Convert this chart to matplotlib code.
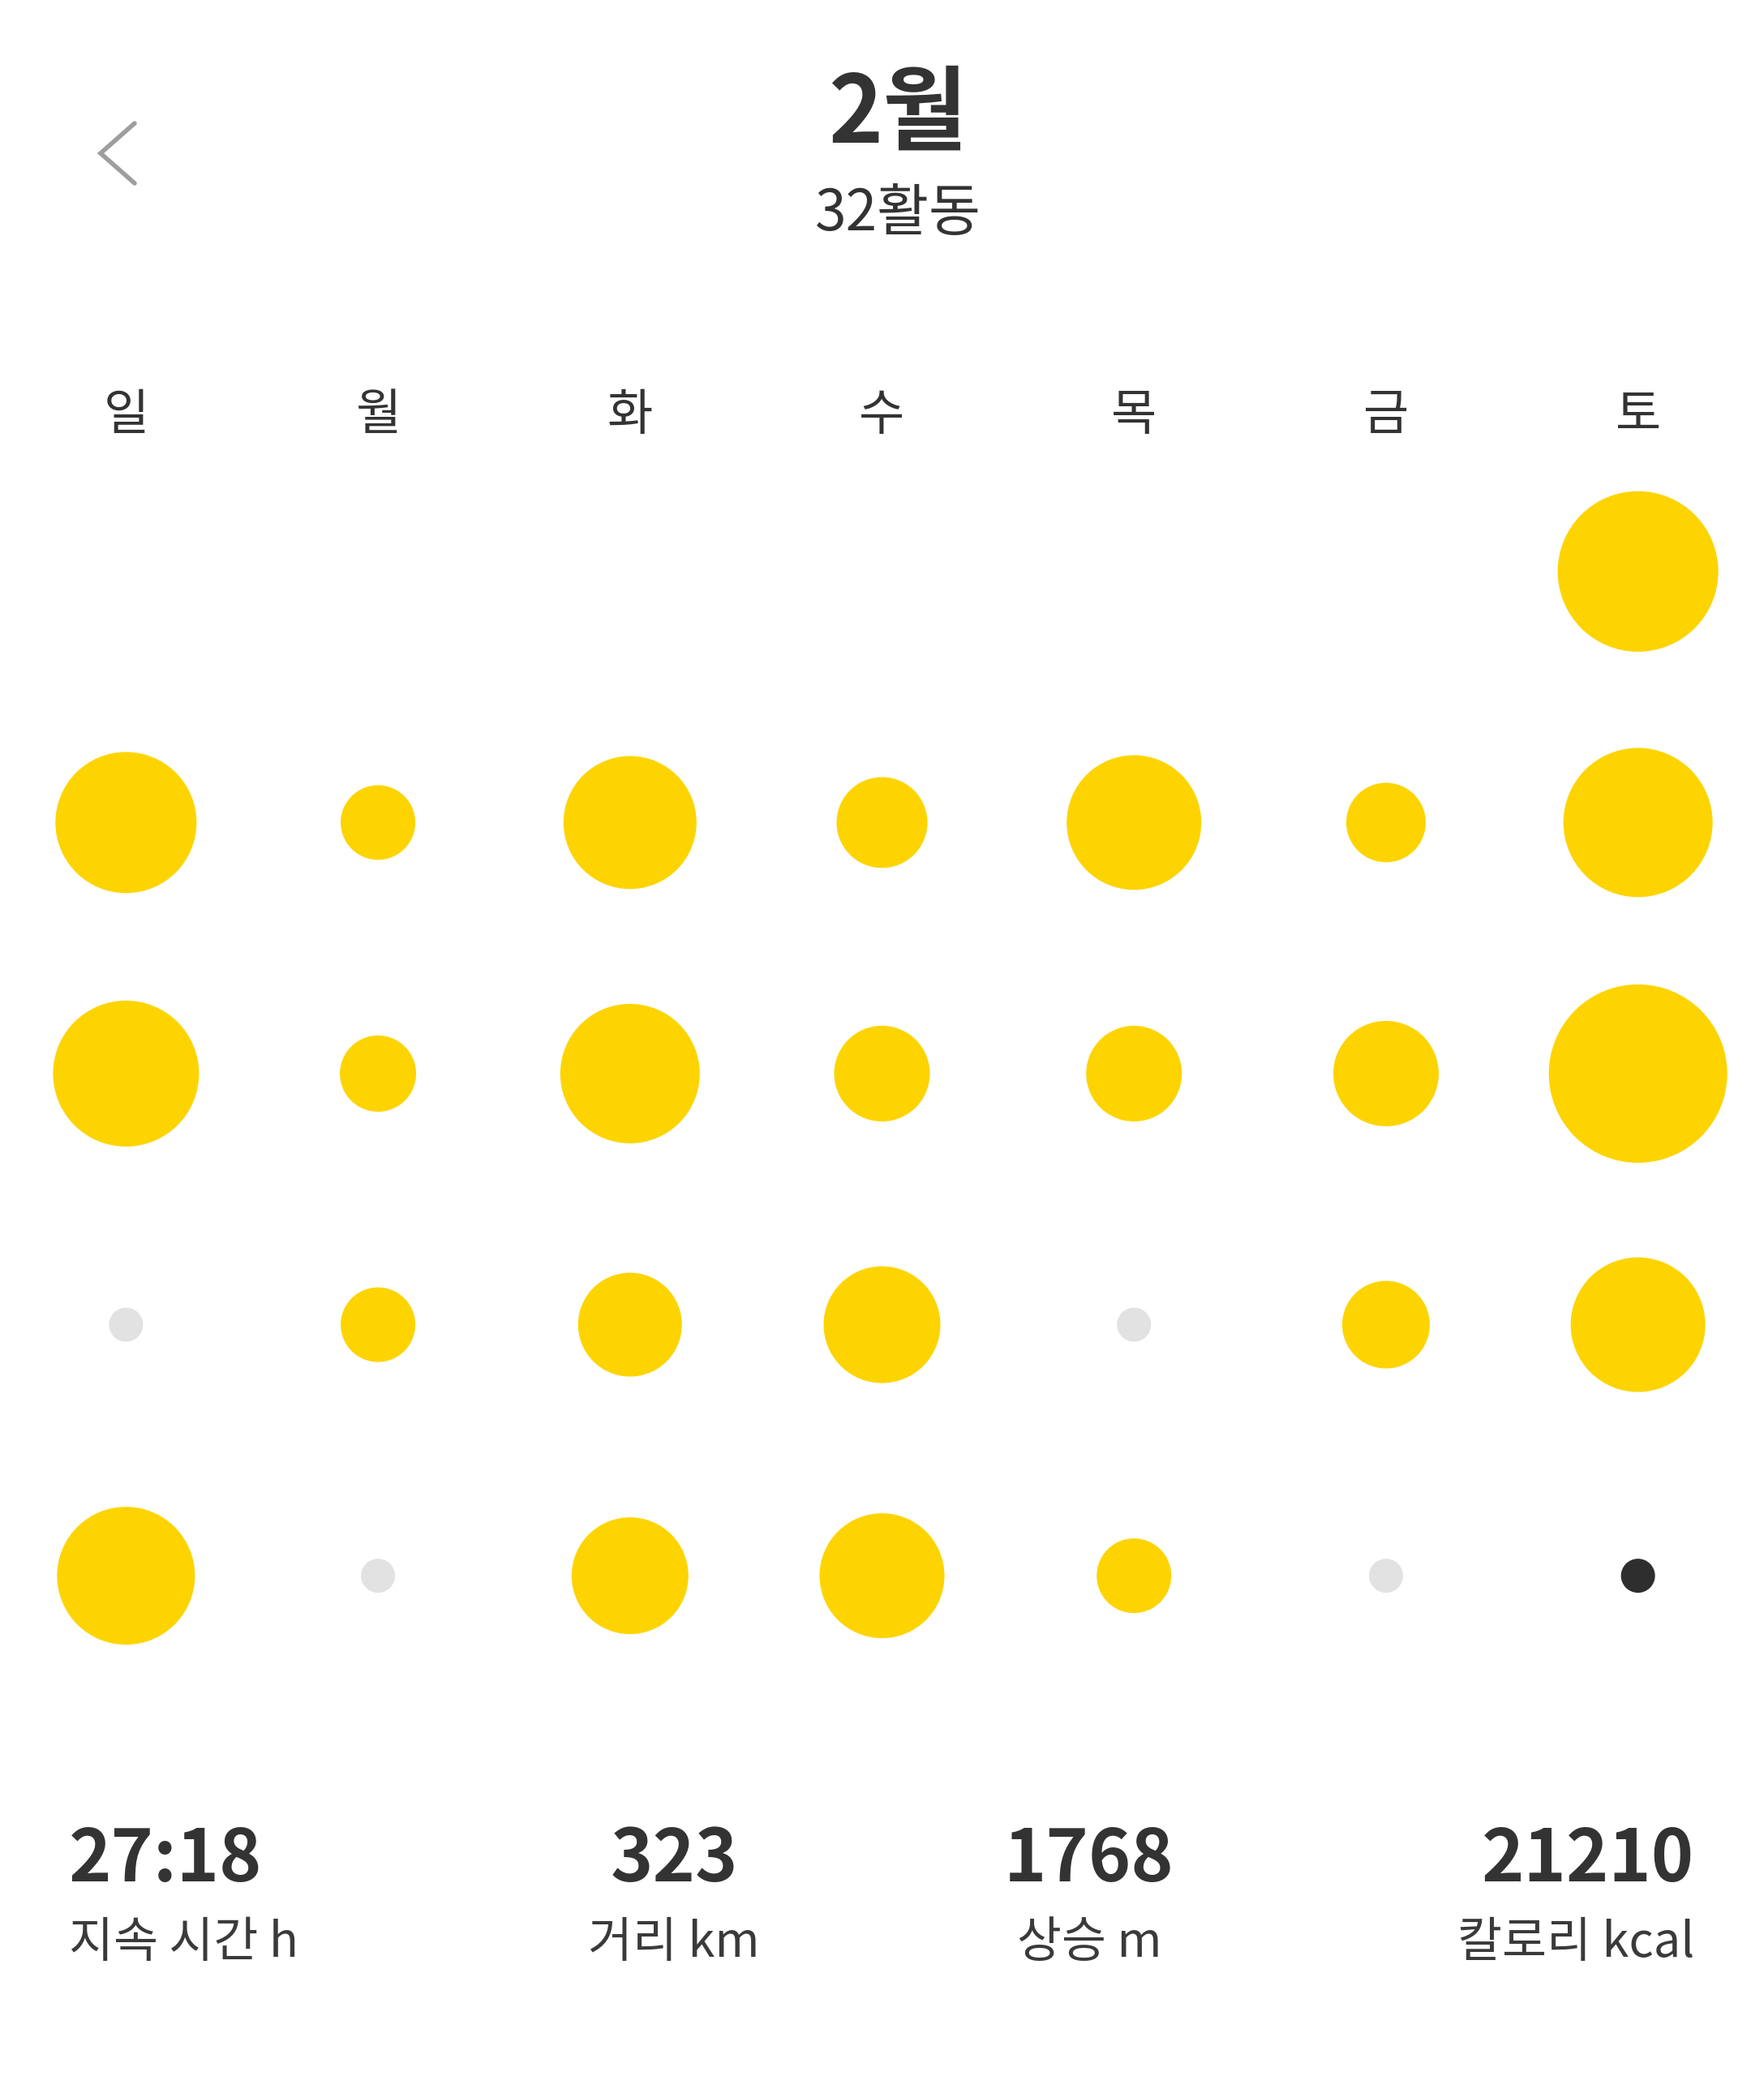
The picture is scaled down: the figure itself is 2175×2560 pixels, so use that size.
import datetime
import matplotlib
matplotlib.use("Agg")
import matplotlib.pyplot as plt
from matplotlib.lines import Line2D

plt.rcParams['font.family'] = ['Noto Sans CJK KR', 'DejaVu Sans']

# month header
year, month = 2020, 2
title = "2월"
subtitle = "32활동"
weekday_labels = ["일", "월", "화", "수", "목", "금", "토"]

# relative bubble size for each day of the month (0 = no activity)
day_size = [99,
            87, 46, 82, 56, 83, 49, 92,
            90, 47, 86, 59, 59, 65, 110,
            0, 46, 64, 72, 0, 54, 83,
            85, 0, 72, 77, 46, 0, 0]
today = 29

stat_values = ["27:18", "323", "1768", "21210"]
stat_labels = ["지속 시간 h", "거리 km", "상승 m", "칼로리 kcal"]

YELLOW = "#FDD400"
REST = "#E2E2E2"
DARK = "#2E2E2E"
TEXT = "#333333"

W, H, DPI = 2175, 2560, 100
fig = plt.figure(figsize=(W / DPI, H / DPI), dpi=DPI)
fig.patch.set_facecolor("white")

# calendar grid: columns = weekday (Sun first), rows = week of month
ax = fig.add_axes([0, 0.1805, 1, 0.6047])
first = datetime.date(year, month, 1)
offset = (first.weekday() + 1) % 7  # sunday = 0
xs, ys, sizes, colors = [], [], [], []
for i, v in enumerate(day_size):
    pos = offset + i
    xs.append(pos % 7)
    ys.append(pos // 7)
    day = i + 1
    r = v if v > 0 else 21
    sizes.append((2 * r * 72 / DPI) ** 2)
    if day == today:
        colors.append(DARK)
    elif v > 0:
        colors.append(YELLOW)
    else:
        colors.append(REST)
ax.scatter(xs, ys, s=sizes, c=colors, linewidths=0, zorder=3)
ax.set_xlim(-0.5, 6.5)
ax.set_ylim(4.5, -0.5)
ax.xaxis.tick_top()
ax.set_xticks(range(7))
ax.set_xticklabels(weekday_labels, fontsize=44, color=TEXT)
ax.tick_params(axis='x', length=0, pad=4)
ax.set_yticks([])
for s in ax.spines.values():
    s.set_visible(False)

# header
fig.text(1107 / W, 1 - 142 / H, title, ha='center', va='center',
         fontsize=82, fontweight='bold', color=TEXT)
fig.text(1107 / W, 1 - 264 / H, subtitle, ha='center', va='center',
         fontsize=50, color=TEXT)
fig.add_artist(Line2D([166 / W, 124 / W, 166 / W],
                      [1 - 152 / H, 1 - 189 / H, 1 - 226 / H],
                      color="#9E9E9E", lw=4, solid_capstyle='round',
                      solid_joinstyle='miter'))

# summary stats
stat_x = [85, 831, 1343, 2089]
stat_ha = ['left', 'center', 'center', 'right']
for val, lab, x, ha in zip(stat_values, stat_labels, stat_x, stat_ha):
    fig.text(x / W, 1 - 2294 / H, val, ha=ha, va='center',
             fontsize=64, fontweight='bold', color=TEXT)
    fig.text(x / W, 1 - 2396 / H, lab, ha=ha, va='center',
             fontsize=43, color="#3A3A3A")

fig.savefig("out.png", dpi=DPI, facecolor="white")
